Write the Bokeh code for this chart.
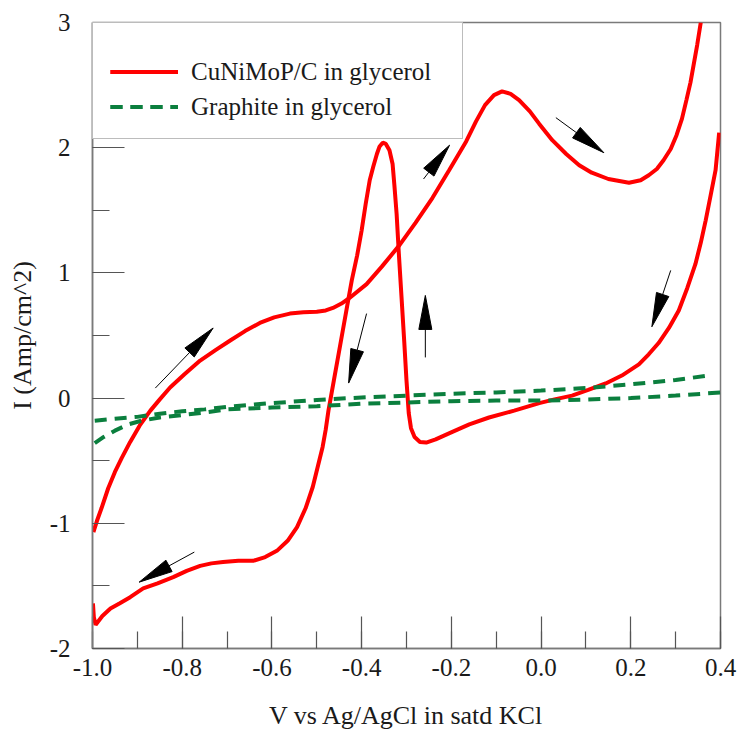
import numpy as np
from bokeh.plotting import figure
from bokeh.models import Legend, LegendItem, Range1d, PrintfTickFormatter, FixedTicker
from bokeh.embed import file_html
from bokeh.resources import INLINE

# ---------------- data ----------------
# CuNiMoP/C in glycerol, anodic (forward) sweep
cu_fwd_v = [-0.998, -0.990, -0.980, -0.965, -0.950, -0.935, -0.916, -0.895, -0.871, -0.850,
            -0.827, -0.795, -0.760, -0.725, -0.693, -0.660, -0.627, -0.595, -0.560, -0.530,
            -0.500, -0.480, -0.464, -0.445, -0.427, -0.389, -0.355, -0.316, -0.280, -0.242,
            -0.205, -0.167, -0.145, -0.125, -0.105, -0.087, -0.068, -0.049, -0.025, -0.004,
            0.025, 0.056, 0.085, 0.113, 0.150, 0.196, 0.222, 0.240, 0.258, 0.273,
            0.289, 0.302, 0.314, 0.324, 0.333, 0.340, 0.348, 0.356]
cu_fwd_i = [-1.07, -0.98, -0.88, -0.72, -0.59, -0.48, -0.35, -0.22, -0.10, -0.01,
            0.085, 0.19, 0.30, 0.385, 0.46, 0.535, 0.60, 0.645, 0.675, 0.685,
            0.690, 0.700, 0.720, 0.755, 0.80, 0.91, 1.05, 1.22, 1.40, 1.60,
            1.82, 2.05, 2.21, 2.34, 2.42, 2.45, 2.43, 2.38, 2.29, 2.19,
            2.06, 1.95, 1.86, 1.80, 1.75, 1.72, 1.74, 1.78, 1.83, 1.90,
            1.99, 2.10, 2.23, 2.38, 2.52, 2.66, 2.82, 3.00]

# CuNiMoP/C in glycerol, cathodic (reverse) sweep
cu_rev_v = [0.397, 0.393, 0.389, 0.378, 0.367, 0.356, 0.344, 0.326, 0.307, 0.285,
            0.262, 0.240, 0.218, 0.180, 0.144, 0.105, 0.069, 0.030, -0.004, -0.060,
            -0.116, -0.160, -0.204, -0.235, -0.256, -0.270, -0.282, -0.290, -0.295, -0.300,
            -0.305, -0.311, -0.317, -0.322, -0.327, -0.331, -0.338, -0.346, -0.353, -0.360,
            -0.366, -0.374, -0.382, -0.391, -0.400, -0.410, -0.422, -0.432, -0.442, -0.452,
            -0.462, -0.468, -0.474, -0.480, -0.487, -0.498, -0.509, -0.525, -0.544, -0.565,
            -0.589, -0.615, -0.642, -0.675, -0.709, -0.735, -0.760, -0.790, -0.820, -0.855,
            -0.887, -0.916, -0.940, -0.960, -0.978, -0.993, -0.997, -0.999]
cu_rev_i = [2.12, 1.97, 1.82, 1.62, 1.42, 1.24, 1.07, 0.88, 0.70, 0.56,
            0.44, 0.35, 0.27, 0.18, 0.117, 0.065, 0.02, -0.01, -0.04, -0.10,
            -0.155, -0.21, -0.28, -0.33, -0.355, -0.35, -0.31, -0.24, -0.12, 0.14,
            0.45, 0.80, 1.15, 1.47, 1.70, 1.87, 1.98, 2.03, 2.04, 2.01,
            1.95, 1.85, 1.74, 1.55, 1.34, 1.14, 0.94, 0.74, 0.54, 0.34,
            0.14, 0.02, -0.10, -0.25, -0.39, -0.55, -0.71, -0.88, -1.03, -1.14,
            -1.22, -1.27, -1.30, -1.30, -1.31, -1.32, -1.34, -1.38, -1.43, -1.48,
            -1.52, -1.59, -1.64, -1.68, -1.74, -1.81, -1.75, -1.64]

# Graphite in glycerol, two branches
gr_up_v = [-0.995, -0.95, -0.90, -0.85, -0.80, -0.75, -0.70, -0.60, -0.50, -0.40,
           -0.30, -0.20, -0.10, 0.00, 0.10, 0.20, 0.30, 0.373]
gr_up_i = [-0.18, -0.165, -0.15, -0.125, -0.105, -0.09, -0.07, -0.04, -0.015, 0.005,
           0.02, 0.035, 0.045, 0.06, 0.08, 0.11, 0.145, 0.18]
gr_lo_v = [-0.995, -0.975, -0.95, -0.92, -0.89, -0.85, -0.80, -0.75, -0.70, -0.60,
           -0.50, -0.40, -0.30, -0.20, -0.10, 0.00, 0.10, 0.20, 0.30, 0.40]
gr_lo_i = [-0.36, -0.31, -0.26, -0.21, -0.18, -0.155, -0.135, -0.115, -0.09, -0.075,
           -0.065, -0.045, -0.035, -0.025, -0.02, -0.02, -0.012, 0.0, 0.02, 0.045]

# sweep-direction arrows (tail -> tip, data units)
arrow_tail_v = [-0.860, -0.773, -0.389, -0.258, -0.262, 0.033, 0.289]
arrow_tail_i = [0.08, -1.23, 0.675, 0.325, 1.75, 2.24, 1.02]
arrow_tip_v = [-0.731, -0.896, -0.429, -0.258, -0.204, 0.140, 0.247]
arrow_tip_i = [0.56, -1.47, 0.12, 0.82, 2.02, 1.96, 0.57]

x_ticks = [-1.0, -0.8, -0.6, -0.4, -0.2, 0.0, 0.2, 0.4]
y_ticks = [-2, -1, 0, 1, 2, 3]
series_labels = ["CuNiMoP/C in glycerol", "Graphite in glycerol"]

# ---------------- figure ----------------
FONT = "Liberation Serif"
X0, X1, Y0, Y1 = -1.0, 0.4, -2.0, 3.0
FW, FH = 628, 626

p = figure(frame_width=FW, frame_height=FH, output_backend="svg", toolbar_location=None,
           x_range=Range1d(X0, X1), y_range=Range1d(Y0, Y1),
           min_border_left=92, min_border_right=19, min_border_top=22, min_border_bottom=89,
           background_fill_color="white", border_fill_color="white")
p.grid.visible = False
p.outline_line_color = "#7a7a7a"
p.outline_line_width = 1.5

for ax in (p.xaxis[0], p.yaxis[0]):
    ax.axis_line_color = "#7a7a7a"
    ax.axis_line_width = 1.5
    ax.major_tick_line_color = "#555555"
    ax.minor_tick_line_color = "#555555"
    ax.major_tick_line_width = 1.2
    ax.minor_tick_line_width = 1.2
    ax.major_tick_in = 32
    ax.major_tick_out = 0
    ax.minor_tick_in = 17
    ax.minor_tick_out = 0
    ax.major_label_text_font = FONT
    ax.major_label_text_font_size = "25px"
    ax.major_label_text_color = "#1a1a1a"
    ax.axis_label_text_font = FONT
    ax.axis_label_text_font_size = "26px"
    ax.axis_label_text_font_style = "normal"
    ax.axis_label_text_color = "#1a1a1a"

p.xaxis.ticker = FixedTicker(ticks=x_ticks, minor_ticks=list(np.round(np.arange(-1.0, 0.41, 0.1), 2)))
p.yaxis.ticker = FixedTicker(ticks=y_ticks, minor_ticks=list(np.arange(-2.0, 3.01, 0.5)))
p.xaxis.formatter = PrintfTickFormatter(format="%.1f")
p.yaxis.formatter = PrintfTickFormatter(format="%d")
p.xaxis.major_label_standoff = 10
p.yaxis.major_label_standoff = 22
p.xaxis.axis_label = "V vs Ag/AgCl in satd KCl"
p.yaxis.axis_label = "I (Amp/cm^2)"
p.xaxis.axis_label_standoff = 22
p.yaxis.axis_label_standoff = 10

RED = "#ff0000"
GREEN = "#0b7f3e"
r1 = p.line(cu_fwd_v, cu_fwd_i, line_color=RED, line_width=4)
r2 = p.line(cu_rev_v, cu_rev_i, line_color=RED, line_width=4)
g1 = p.line(gr_up_v, gr_up_i, line_color=GREEN, line_width=4, line_dash="12 8")
g2 = p.line(gr_lo_v, gr_lo_i, line_color=GREEN, line_width=4, line_dash="12 8")

# arrows: thin shaft + long narrow filled head, built in screen proportions
sx = FW / (X1 - X0)
sy = FH / (Y1 - Y0)
HEAD_L, HEAD_W = 34.0, 13.0
tv = np.array(arrow_tail_v); ti = np.array(arrow_tail_i)
hv = np.array(arrow_tip_v); hi = np.array(arrow_tip_i)
dx = (hv - tv) * sx
dy = (hi - ti) * sy
ln = np.hypot(dx, dy)
ux, uy = dx / ln, dy / ln
nx, ny = -uy, ux
bx = hv * sx - HEAD_L * ux
by = hi * sy - HEAD_L * uy
base_v = bx / sx
base_i = by / sy
p.segment(tv, ti, base_v, base_i, line_color="black", line_width=1)
xs = [[hv[k], (bx[k] + HEAD_W / 2 * nx[k]) / sx, (bx[k] - HEAD_W / 2 * nx[k]) / sx] for k in range(len(hv))]
ys = [[hi[k], (by[k] + HEAD_W / 2 * ny[k]) / sy, (by[k] - HEAD_W / 2 * ny[k]) / sy] for k in range(len(hv))]
p.patches(xs, ys, fill_color="black", line_color="black", line_width=1)

legend = Legend(items=[LegendItem(label=series_labels[0], renderers=[r1, r2]),
                       LegendItem(label=series_labels[1], renderers=[g1, g2])],
                location="top_left", margin=0, padding=17, spacing=6,
                glyph_width=68, glyph_height=29, label_height=29, label_width=254,
                label_standoff=13,
                label_text_font=FONT, label_text_font_size="25px", label_text_color="#1a1a1a",
                border_line_color="#7a7a7a", border_line_width=1.5,
                background_fill_color="white", background_fill_alpha=1.0,
                title=" ", title_text_font_size="14px", title_standoff=1)
p.add_layout(legend)

open("out.html", "w").write(file_html(p, INLINE))
